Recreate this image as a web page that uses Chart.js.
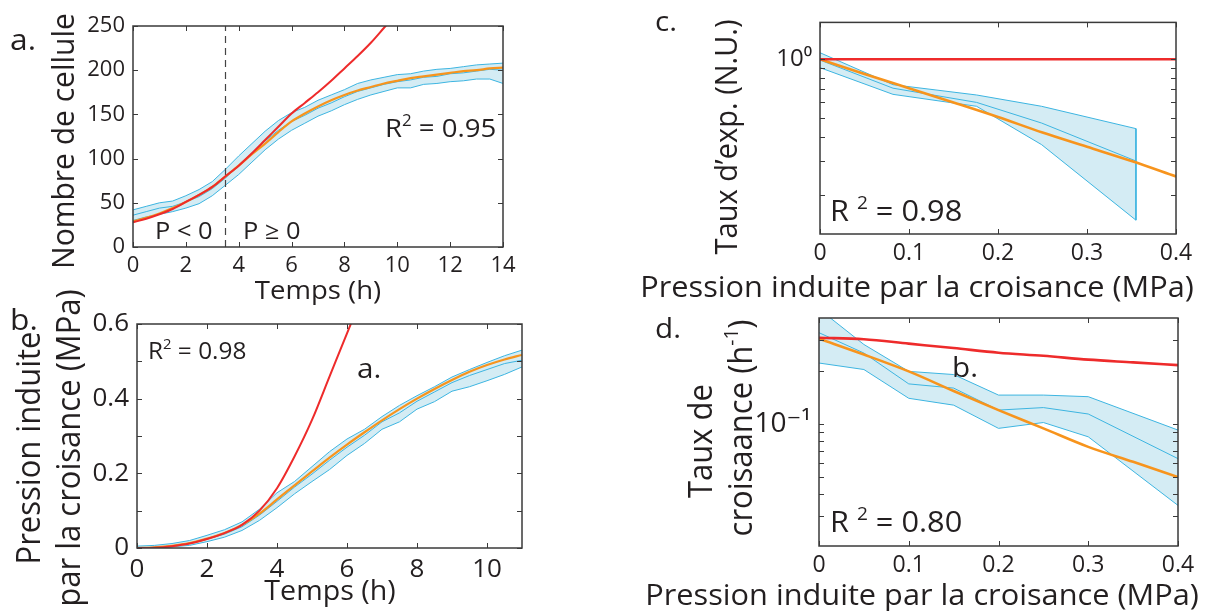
<!DOCTYPE html>
<html>
<head>
<meta charset="utf-8">
<script src="https://cdn.jsdelivr.net/npm/chart.js@4.4.1/dist/chart.umd.min.js"></script>
<style>
html, body { margin: 0; padding: 0; background: #fff; }
#wrap { position: relative; width: 1215px; height: 611px; overflow: hidden; }
#wrap canvas { position: absolute; left: 0; top: 0; }
</style>
</head>
<body>
<div id="wrap">
  <canvas id="chartA" width="1215" height="611"></canvas>
  <canvas id="chartB" width="1215" height="611"></canvas>
  <canvas id="chartC" width="1215" height="611"></canvas>
  <canvas id="chartD" width="1215" height="611"></canvas>
</div>
<script>
// a. nombre de cellules vs temps
const timeA = [0,0.5,1,1.5,2,2.5,3,3.5,4,4.5,5,5.5,6,6.5,7,7.5,8,8.5,9,9.5,10,10.5,11,11.5,12,12.5,13,13.5,14]
const meanA = [36,40,44,46,51,57,66,78,92,106,120,132,142,149,157,163,170,176,180,184,187,189,192,193,196,197,199,201,200]
const upA   = [42,46,50,52,58,65,74,88,103,117,131,143,152,158,166,172,178,185,189,192,195,196,199,201,202,204,206,207,208]
const lowA  = [30,34,37,40,44,49,58,70,82,96,110,122,132,140,148,154,161,167,172,176,180,180,184,185,187,188,190,190,185]
const fitA  = [29,33,38,44,51,59,68,80,92,105,117,130,142,151,159,166,172,177,181,185,188,191,193,195,197,199,200,202,203]
const timeExpA = [0,0.5,1,1.5,2,2.5,3,3.5,4,4.5,5,5.5,6,6.5,7,7.5,8,8.5,9,9.5,10]
const expA  = [28,32,37,43,51,59,68,80,92,106,121,136,151,163,175,188,202,216,231,248,265]
const splitA = 3.5

// b. pression induite vs temps
const timeB = [0,0.5,1,1.5,2,2.5,3,3.5,4,4.5,5,5.5,6,6.5,7,7.5,8,8.5,9,9.5,10,10.5,11]
const meanB = [0,0.002,0.006,0.012,0.024,0.037,0.057,0.088,0.125,0.163,0.198,0.235,0.27,0.302,0.338,0.362,0.393,0.418,0.443,0.462,0.478,0.494,0.503]
const upB   = [0.005,0.007,0.012,0.02,0.034,0.049,0.07,0.104,0.148,0.178,0.218,0.258,0.292,0.318,0.352,0.382,0.408,0.432,0.458,0.478,0.497,0.515,0.53]
const lowB  = [0,0,0.003,0.007,0.017,0.029,0.047,0.074,0.108,0.145,0.178,0.21,0.248,0.28,0.318,0.338,0.372,0.392,0.42,0.432,0.448,0.465,0.485]
const fitB  = [0,0.002,0.006,0.013,0.025,0.04,0.062,0.092,0.13,0.168,0.205,0.242,0.277,0.31,0.342,0.372,0.4,0.426,0.45,0.472,0.49,0.505,0.517]
const timeExpB = [0,0.5,1,1.5,2,2.5,3,3.5,4,4.5,5,5.5,6,6.5]
const expB  = [0,0.001,0.005,0.012,0.024,0.04,0.062,0.1,0.16,0.245,0.343,0.459,0.575,0.69]

// c. taux d'expansion vs pression
const presC = [0,0.082,0.176,0.249,0.355]
const meanC = [0.99,0.71,0.60,0.47,0.30]
const upC   = [1.08,0.74,0.655,0.573,0.44]
const lowC  = [0.905,0.66,0.573,0.364,0.149]
const presFit = [0,0.05,0.1,0.15,0.2,0.25,0.3,0.35,0.4]
const fitC  = [1.0,0.84,0.71,0.60,0.505,0.42,0.355,0.30,0.25]
const presConst = [0,0.4]
const constC = [1,1]
const ticksCy = [0.2,0.3,0.4,0.5,0.6,0.7,0.8,0.9,1]

// d. taux de croissance vs pression
const presD = [0,0.05,0.1,0.15,0.2,0.25,0.3,0.4]
const upD   = [0.45,0.283,0.199,0.191,0.146,0.146,0.143,0.0924]
const meanD = [0.33,0.253,0.169,0.160,0.120,0.124,0.114,0.0636]
const lowD  = [0.222,0.204,0.140,0.128,0.0945,0.102,0.0846,0.0345]
const fitD  = [0.305,0.248,0.199,0.154,0.120,0.0945,0.0742,0.061,0.050]
const redD  = [0.309,0.303,0.286,0.27,0.254,0.244,0.232,0.224,0.216]
const ticksDy = [0.03,0.04,0.05,0.06,0.07,0.08,0.09,0.1,0.2,0.3]

const FONT = '"Open Sans", "DejaVu Sans", sans-serif'
const INK = '#231f20'
const RED = '#ee2b2b'
const ORANGE = '#f7941d'
const BLUE = '#3db5e1'
const BAND = '#d4ecf4'
const K = 1.06 // text is a bit wider than tall in the reference

function pts(xs, ys) {
    return xs.map((x, i) => ({x: x, y: ys[i]}))
}

function line(data, color, width, extra) {
    return Object.assign({data: data, borderColor: color, borderWidth: width, pointRadius: 0, fill: false, tension: 0}, extra || {})
}

// smooth curve for the model fits
function curve(data, color, width) {
    return line(data, color, width, {cubicInterpolationMode: 'monotone'})
}

// text with {sup} parts, optionally rotated
function drawText(ctx, t) {
    let parts = t.text.split(/(\{[^}]*\})/).filter(s => s.length)
    ctx.save()
    ctx.translate(t.x, t.y)
    ctx.scale(K, 1)
    if (t.rot) ctx.rotate(-Math.PI / 2)
    ctx.fillStyle = INK
    ctx.textBaseline = 'alphabetic'
    ctx.textAlign = 'left'
    let widths = parts.map(p => {
        let sup = p[0] == '{'
        ctx.font = (sup ? Math.round(t.size * 0.62) : t.size) + 'px ' + FONT
        return ctx.measureText(sup ? p.slice(1, -1) : p).width
    })
    let total = widths.reduce((a, b) => a + b, 0)
    let pos = t.align == 'center' ? -total / 2 : 0
    parts.forEach((p, i) => {
        let sup = p[0] == '{'
        ctx.font = (sup ? Math.round(t.size * 0.62) : t.size) + 'px ' + FONT
        ctx.fillText(sup ? p.slice(1, -1) : p, pos, sup ? -t.size * 0.42 : 0)
        pos += widths[i]
    })
    ctx.restore()
}

const decorations = {
    chartA: [
        {text: 'a.', x: 10, y: 50, size: 30},
        {text: 'Nombre de cellule', x: 74, y: 141, size: 30, rot: true, align: 'center'},
        {text: 'Temps (h)', x: 318, y: 299, size: 26, align: 'center'},
        {text: 'R{2} = 0.95', x: 385, y: 137, size: 26},
        {text: 'P < 0', x: 155, y: 239, size: 24},
        {text: 'P \u2265 0', x: 243, y: 239, size: 24}
    ],
    chartB: [
        {text: 'b.', x: 10, y: 330, size: 30},
        {text: 'Pression induite', x: 40, y: 448, size: 31, rot: true, align: 'center'},
        {text: 'par la croisance (MPa)', x: 80, y: 448, size: 31, rot: true, align: 'center'},
        {text: 'Temps (h)', x: 330, y: 600, size: 27, align: 'center'},
        {text: 'R{2} = 0.98', x: 148, y: 359, size: 23},
        {text: 'a.', x: 357, y: 378, size: 28}
    ],
    chartC: [
        {text: 'c.', x: 655, y: 31, size: 28},
        {text: 'Taux d\u2019exp. (N.U.)', x: 737, y: 137, size: 29, rot: true, align: 'center'},
        {text: 'Pression induite par la croisance (MPa)', x: 917, y: 297, size: 29, align: 'center'},
        {text: 'R {2} = 0.98', x: 830, y: 221, size: 29}
    ],
    chartD: [
        {text: 'd.', x: 655, y: 338, size: 28},
        {text: 'Taux de', x: 712, y: 441, size: 31, rot: true, align: 'center'},
        {text: 'croisaance (h{-1})', x: 752, y: 428, size: 31, rot: true, align: 'center'},
        {text: 'Pression induite par la croisance (MPa)', x: 922, y: 605, size: 29, align: 'center'},
        {text: 'R {2} = 0.80', x: 830, y: 532, size: 29},
        {text: 'b.', x: 952, y: 377, size: 28}
    ]
}

// MATLAB-like box: frame plus inward ticks on all four sides
const boxPlugin = {
    id: 'box',
    afterDatasetsDraw(chart) {
        let {ctx, chartArea: a, scales} = chart
        ctx.save()
        ctx.strokeStyle = '#3a3a3a'
        ctx.lineWidth = 1
        ctx.beginPath()
        for (let tk of scales.x.ticks) {
            let px = Math.round(scales.x.getPixelForValue(tk.value)) + 0.5
            ctx.moveTo(px, a.bottom); ctx.lineTo(px, a.bottom - 5)
            ctx.moveTo(px, a.top); ctx.lineTo(px, a.top + 5)
        }
        for (let tk of scales.y.ticks) {
            let py = Math.round(scales.y.getPixelForValue(tk.value)) + 0.5
            ctx.moveTo(a.left, py); ctx.lineTo(a.left + 5, py)
            ctx.moveTo(a.right, py); ctx.lineTo(a.right - 5, py)
        }
        ctx.stroke()
        ctx.lineWidth = 1.5
        ctx.strokeRect(a.left, a.top, a.right - a.left, a.bottom - a.top)
        ctx.restore()
        for (let t of decorations[chart.canvas.id] || []) drawText(ctx, t)
    }
}

const YW = 90, XH = 40
function place(L, T, R, B) {
    return {left: L - YW, top: T, right: 1215 - R, bottom: 611 - B - XH}
}

function xAxis(min, max, step, size) {
    return {
        type: 'linear', min: min, max: max,
        grid: {display: false, drawTicks: false}, border: {display: false},
        ticks: {stepSize: step, includeBounds: false, padding: 6, color: INK, font: {family: FONT, size: size}},
        afterFit(s) { s.height = XH }
    }
}

function yAxis(extra, size) {
    return Object.assign({
        grid: {display: false, drawTicks: false}, border: {display: false},
        afterFit(s) { s.width = YW }
    }, extra, {ticks: Object.assign({padding: 8, color: INK, font: {family: FONT, size: size}}, extra.ticks || {})})
}

function makeChart(id, datasets, padding, scales) {
    return new Chart(document.getElementById(id), {
        type: 'line',
        data: {datasets: datasets},
        options: {
            responsive: false,
            animation: false,
            events: [],
            layout: {padding: padding, autoPadding: false},
            plugins: {legend: {display: false}, tooltip: {enabled: false}, filler: {drawTime: 'beforeDatasetsDraw'}},
            scales: scales
        },
        plugins: [boxPlugin]
    })
}

// a.
makeChart('chartA', [
    curve(pts(timeExpA, expA), RED, 2),
    curve(pts(timeA, fitA), ORANGE, 2.2),
    line([{x: splitA, y: 0}, {x: splitA, y: 250}], '#444', 1.2, {borderDash: [7, 5]}),
    line(pts(timeA, meanA), BLUE, 1),
    line(pts(timeA, upA), BLUE, 1, {fill: '+1', backgroundColor: BAND}),
    line(pts(timeA, lowA), BLUE, 1)
], place(133, 26, 503, 247), {
    x: xAxis(0, 14, 2, 22),
    y: yAxis({type: 'linear', min: 0, max: 250, ticks: {stepSize: 50}}, 22)
})

// b.
makeChart('chartB', [
    curve(pts(timeExpB, expB), RED, 2),
    curve(pts(timeB, fitB), ORANGE, 2.2),
    line(pts(timeB, meanB), BLUE, 1),
    line(pts(timeB, upB), BLUE, 1, {fill: '+1', backgroundColor: BAND}),
    line(pts(timeB, lowB), BLUE, 1)
], place(137, 324, 522, 548), {
    x: xAxis(0, 11, 2, 26),
    y: yAxis({type: 'linear', min: 0, max: 0.6, ticks: {
        stepSize: 0.1,
        callback: v => Math.round(v * 10) % 2 == 0 ? (v == 0 ? '0' : v.toFixed(1)) : ''
    }}, 26)
})

// c.
let lastC = presC.length - 1
makeChart('chartC', [
    line(pts(presConst, constC), RED, 2.6),
    curve(pts(presFit, fitC), ORANGE, 2.6),
    line(pts(presC, meanC), BLUE, 1),
    line([{x: presC[lastC], y: upC[lastC]}, {x: presC[lastC], y: lowC[lastC]}], BLUE, 1),
    line(pts(presC, upC), BLUE, 1, {fill: '+1', backgroundColor: BAND}),
    line(pts(presC, lowC), BLUE, 1)
], place(820, 10, 1176, 234), {
    x: xAxis(0, 0.4, 0.1, 23),
    y: yAxis({
        type: 'logarithmic', min: 0.1265, max: 1.546,
        afterBuildTicks(s) { s.ticks = ticksCy.map(v => ({value: v})) },
        ticks: {autoSkip: false, callback: v => Math.abs(v - 1) < 1e-9 ? '10\u2070' : ''}
    }, 24)
})

// d.
makeChart('chartD', [
    curve(pts(presFit, redD), RED, 2.6),
    curve(pts(presFit, fitD), ORANGE, 2.6),
    line(pts(presD, meanD), BLUE, 1),
    line(pts(presD, upD), BLUE, 1, {fill: '+1', backgroundColor: BAND}),
    line(pts(presD, lowD), BLUE, 1)
], place(819, 318, 1178, 546), {
    x: xAxis(0, 0.4, 0.1, 23),
    y: yAxis({
        type: 'logarithmic', min: 0.0203, max: 0.4,
        afterBuildTicks(s) { s.ticks = ticksDy.map(v => ({value: v})) },
        ticks: {autoSkip: false, callback: v => Math.abs(v - 0.1) < 1e-9 ? '10\u207b\u00b9' : ''}
    }, 28)
})
</script>
</body>
</html>
